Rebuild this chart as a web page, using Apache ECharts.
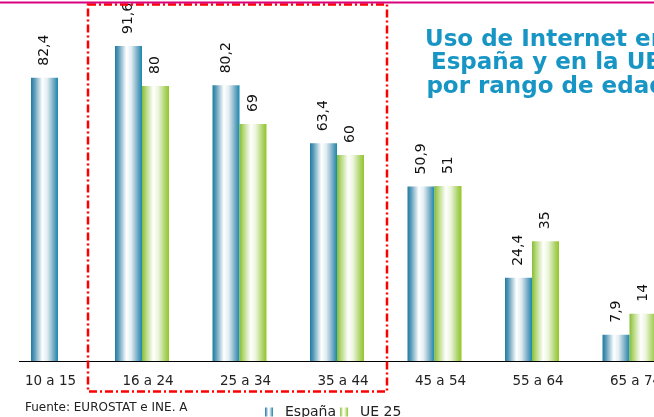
<!DOCTYPE html>
<html>
<head>
<meta charset="utf-8">
<script src="https://cdn.jsdelivr.net/npm/echarts@6/dist/echarts.min.js"></script>
<style>
html,body{margin:0;padding:0;background:#fff;}
#chart{width:654px;height:417px;}
</style>
</head>
<body>
<div id="chart"></div>
<script>
// ---- data ----
const categories = ['10 a 15', '16 a 24', '25 a 34', '35 a 44', '45 a 54', '55 a 64', '65 a 74'];
const espana = [82.4, 91.6, 80.2, 63.4, 50.9, 24.4, 7.9];
const ue25 = [null, 80, 69, 60, 51, 35, 14];
const seriesNames = ['España', 'UE 25'];
const titleText = 'Uso de Internet en\nEspaña y en la UE\npor rango de edad';
const sourceText = 'Fuente: EUROSTAT e INE. A';

// España bars that stand alone (no UE value) are centred in their slot
const espanaSolo = espana.map((v, i) => ue25[i] == null ? v : null);
const espanaPair = espana.map((v, i) => ue25[i] == null ? null : v);

const FONT = 'DejaVu Sans';
const gradEsp = new echarts.graphic.LinearGradient(0, 0, 1, 0, [
  {offset: 0, color: '#1f7ba0'},
  {offset: 0.12, color: '#5598b6'},
  {offset: 0.42, color: '#ffffff'},
  {offset: 0.6, color: '#e2edf2'},
  {offset: 0.88, color: '#5f9fbb'},
  {offset: 1, color: '#1389b3'}
]);
const gradUE = new echarts.graphic.LinearGradient(0, 0, 1, 0, [
  {offset: 0, color: '#86bd35'},
  {offset: 0.14, color: '#b4d778'},
  {offset: 0.42, color: '#ffffff'},
  {offset: 0.6, color: '#ecf5dc'},
  {offset: 0.88, color: '#a6d05e'},
  {offset: 1, color: '#94c725'}
]);

const valueLabel = {
  show: true,
  position: 'top',
  rotate: 90,
  align: 'left',
  verticalAlign: 'middle',
  distance: 12,
  fontFamily: FONT,
  fontSize: 14,
  color: '#111',
  formatter: p => String(p.value).replace('.', ',')
};

const chart = echarts.init(document.getElementById('chart'));
chart.setOption({
  animation: false,
  textStyle: {fontFamily: FONT},
  title: {
    text: titleText,
    left: 546,
    top: 28,
    padding: 0,
    textAlign: 'center',
    textStyle: {
      fontFamily: FONT,
      fontSize: 23,
      fontWeight: 'bold',
      color: '#1795c4',
      lineHeight: 23.5
    }
  },
  legend: {
    data: seriesNames,
    left: 265,
    top: 405,
    padding: 0,
    icon: 'rect',
    itemWidth: 8,
    itemHeight: 9,
    itemGap: 4,
    textStyle: {fontFamily: FONT, fontSize: 14, color: '#222', padding: [0, 0, 0, 7]}
  },
  grid: {left: -4.25, width: 682.5, top: 17, bottom: 55, containLabel: false, outerBoundsMode: 'none'},
  xAxis: [
    {
      type: 'category',
      data: categories,
      axisLine: {show: false},
      axisTick: {show: false},
      axisLabel: {
        fontFamily: FONT, fontSize: 13.5, color: '#222', margin: 12,
        padding: [0, 0, 0, 12], interval: 0
      }
    },
    {
      type: 'category',
      data: categories,
      show: false
    }
  ],
  yAxis: {type: 'value', min: 0, max: 100, show: false},
  series: [
    {
      name: seriesNames[0], type: 'bar', xAxisIndex: 0, data: espanaPair,
      barWidth: 27, barGap: '0%', itemStyle: {color: gradEsp}, label: valueLabel
    },
    {
      name: seriesNames[1], type: 'bar', xAxisIndex: 0, data: ue25,
      barWidth: 27, barGap: '0%', itemStyle: {color: gradUE}, label: valueLabel
    },
    {
      name: seriesNames[0], type: 'bar', xAxisIndex: 1, data: espanaSolo,
      barWidth: 27, itemStyle: {color: gradEsp}, label: valueLabel
    }
  ],
  graphic: [
    {type: 'line', shape: {x1: 19, y1: 361.5, x2: 654, y2: 361.5}, style: {stroke: '#000', lineWidth: 1}, z: 10},
    {type: 'rect', shape: {x: 88, y: 4.5, width: 299, height: 387}, style: {fill: 'none', stroke: '#ff0000', lineWidth: 2.5, lineDash: [8, 3, 2, 3]}, z: 20},
    {type: 'line', shape: {x1: 0, y1: 2.5, x2: 654, y2: 2.5}, style: {stroke: '#d9007f', lineWidth: 2}, z: 30},
    {type: 'text', left: 25, top: 402, style: {text: sourceText, font: '12px "DejaVu Sans"', fill: '#222'}}
  ]
});
</script>
</body>
</html>
